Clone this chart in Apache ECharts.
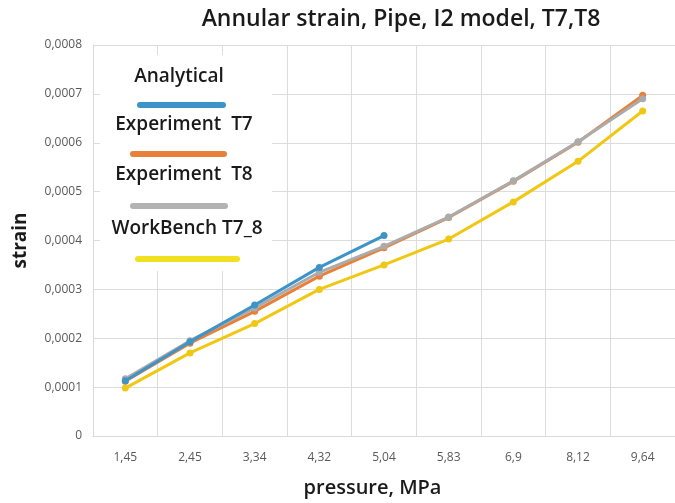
<!DOCTYPE html>
<html><head><meta charset="utf-8">
<script src="https://cdn.jsdelivr.net/npm/echarts@6/dist/echarts.min.js"></script>
<style>html,body{margin:0;padding:0;background:#fff}#c{width:675px;height:503px}</style>
</head><body><div id="c"></div>
<script>
const categories = ['1,45','2,45','3,34','4,32','5,04','5,83','6,9','8,12','9,64'];
const analytical = [0.000113, 0.000193, 0.000268, 0.000345, 0.000410];
const experimentT7 = [0.000112, 0.000190, 0.000255, 0.000327, 0.000385, 0.000447, 0.000521, 0.000601, 0.000697];
const experimentT8 = [0.000117, 0.000195, 0.000262, 0.000335, 0.000388, 0.000448, 0.000522, 0.000602, 0.000690];
const workbench = [0.000098, 0.000170, 0.000230, 0.000300, 0.000350, 0.000403, 0.000479, 0.000562, 0.000665];
const seriesNames = ['Analytical','Experiment  T7','Experiment  T8','WorkBench T7_8'];
const colors = ['#3d94c9','#e8803a','#ababab','#f0c814'];
const legendColors = ['#3d94c9','#e8803a','#b3b3b3','#f0e020'];
const seriesData = [analytical, experimentT7, experimentT8, workbench];

const chart = echarts.init(document.getElementById('c'));
const font = '"Open Sans"';
const legendY = [77, 125, 175, 229];
const legendX = [179, 184, 184, 187];
const lineY = [105, 154, 206, 259];
const lineX = [[140,223],[133,224],[133,225],[138,237]];
const graphics = [{type:'rect', shape:{x:100,y:55,width:172,height:216}, style:{fill:'#fff'}, z:10}];
seriesNames.forEach((n,i)=>{
  graphics.push({type:'text', x:legendX[i], y:legendY[i], style:{text:n, font:'600 19px '+font, fill:'#1a1a1a', align:'center', verticalAlign:'middle'}, z:11});
  graphics.push({type:'line', shape:{x1:lineX[i][0],y1:lineY[i],x2:lineX[i][1],y2:lineY[i]}, style:{stroke:legendColors[i], lineWidth:6, lineCap:'round'}, z:11});
});

chart.setOption({
  animation:false,
  title:{text:'Annular strain, Pipe, I2 model, T7,T8', left:396, textAlign:'center', top:3,
    textStyle:{fontFamily:font, fontSize:23, fontWeight:600, color:'#1a1a1a'}},
  grid:{left:93, top:45, width:588, height:395},
  xAxis:{type:'category', data:categories, boundaryGap:true,
    name:'pressure, MPa', nameLocation:'middle', nameGap:42,
    nameTextStyle:{fontFamily:font, fontSize:20, fontWeight:600, color:'#1a1a1a', padding:[0,0,0,-23]},
    axisLine:{lineStyle:{color:'#d9d9d9'}}, axisTick:{show:false},
    axisLabel:{fontFamily:font, fontSize:12, color:'#595959', margin:16},
    splitLine:{show:true, lineStyle:{color:'#dcdcdc'}}},
  yAxis:{type:'value', min:0, max:0.0008, interval:0.0001,
    name:'strain', nameLocation:'middle', nameGap:63, nameRotate:90,
    nameTextStyle:{fontFamily:font, fontSize:19, fontWeight:'bold', color:'#1a1a1a'},
    axisLine:{show:true, lineStyle:{color:'#d9d9d9'}}, axisTick:{show:false},
    axisLabel:{fontFamily:font, fontSize:12, color:'#595959', margin:11,
      formatter:v=> v===0 ? '0' : v.toFixed(4).replace('.',',')},
    splitLine:{lineStyle:{color:'#dcdcdc'}}},
  series: seriesNames.map((n,i)=>({
    name:n, type:'line', data:seriesData[i], symbol:'circle', symbolSize:7,
    itemStyle:{color:colors[i]}, lineStyle:{color:colors[i], width:3},
    z: [5,3,4,2][i]
  })),
  graphic: graphics
});
</script></body></html>
